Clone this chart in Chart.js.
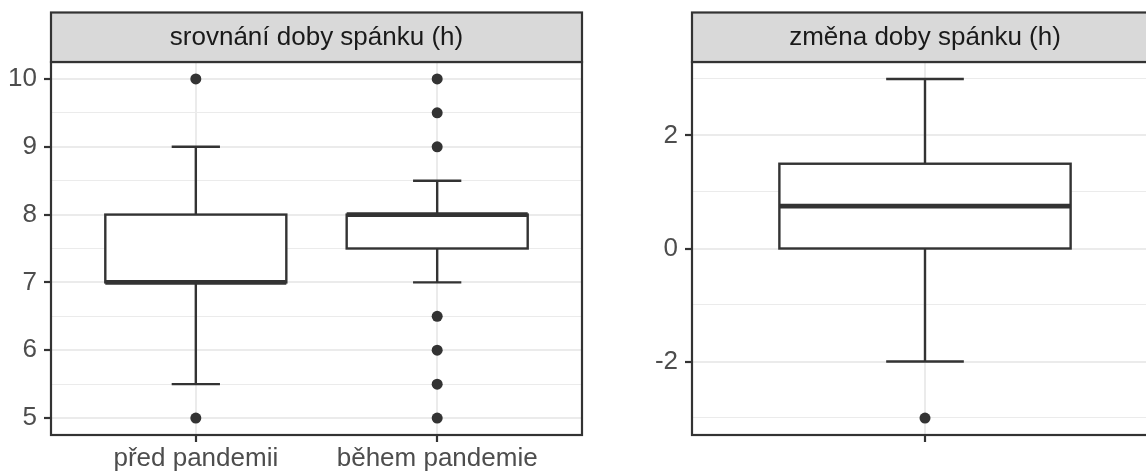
<!DOCTYPE html>
<html>
<head>
<meta charset="utf-8">
<script src="https://cdn.jsdelivr.net/npm/chart.js@4.4.1/dist/chart.umd.min.js"></script>
<style>
  html, body { margin: 0; padding: 0; background: #ffffff; overflow: hidden; width: 1146px; height: 472px; }
  canvas { position: absolute; top: 0; }
  #c1 { left: 0px; }
  #c2 { left: 600px; }
</style>
</head>
<body>
<canvas id="c1" width="600" height="472"></canvas>
<canvas id="c2" width="570" height="472"></canvas>
<script>
// ---------- data ----------
const panelTitles = ["srovnání doby spánku (h)", "změna doby spánku (h)"];

const sleepCategories = ["před pandemii", "během pandemie"];
const sleepWhiskerLow  = [5.5, 7];
const sleepQ1          = [7, 7.5];
const sleepMedian      = [7, 8];
const sleepQ3          = [8, 8];
const sleepWhiskerHigh = [9, 8.5];
const sleepOutliers    = [[5, 10], [10, 9.5, 9, 6.5, 6, 5.5, 5]];
const sleepMajorTicks  = [5, 6, 7, 8, 9, 10];
const sleepMinorTicks  = [5.5, 6.5, 7.5, 8.5, 9.5];

const changeCategories = [""];
const changeWhiskerLow  = [-2];
const changeQ1          = [0];
const changeMedian      = [0.75];
const changeQ3          = [1.5];
const changeWhiskerHigh = [3];
const changeOutliers    = [[-3]];
const changeMajorTicks  = [-2, 0, 2];
const changeMinorTicks  = [-3, -1, 1, 3];

// ---------- style ----------
const FONT = '"Liberation Sans", Arial, Helvetica, sans-serif';
const FONT_SIZE = 26;
const DARK = '#333333';
const GRID = '#EBEBEB';

const boxPlugin = {
  id: 'boxplot',
  beforeDatasetsDraw(chart, args, opts) {
    const ctx = chart.ctx, xs = chart.scales.x, ys = chart.scales.y;
    ctx.save();
    ctx.strokeStyle = DARK;
    ctx.lineCap = 'butt';
    for (let i = 0; i < opts.q1.length; i++) {
      const c = i + 1;
      const xc = xs.getPixelForValue(c);
      const xl = xs.getPixelForValue(c - opts.boxHalf);
      const xr = xs.getPixelForValue(c + opts.boxHalf);
      const cl = xs.getPixelForValue(c - opts.capHalf);
      const cr = xs.getPixelForValue(c + opts.capHalf);
      const yLow = ys.getPixelForValue(opts.low[i]);
      const yQ1 = ys.getPixelForValue(opts.q1[i]);
      const yMed = ys.getPixelForValue(opts.med[i]);
      const yQ3 = ys.getPixelForValue(opts.q3[i]);
      const yHigh = ys.getPixelForValue(opts.high[i]);
      ctx.lineWidth = 2.4;
      // whiskers
      ctx.beginPath();
      ctx.moveTo(xc, yQ1); ctx.lineTo(xc, yLow);
      ctx.moveTo(xc, yQ3); ctx.lineTo(xc, yHigh);
      ctx.moveTo(cl, yLow); ctx.lineTo(cr, yLow);
      ctx.moveTo(cl, yHigh); ctx.lineTo(cr, yHigh);
      ctx.stroke();
      // box
      ctx.fillStyle = '#ffffff';
      ctx.fillRect(xl, yQ3, xr - xl, yQ1 - yQ3);
      ctx.strokeRect(xl, yQ3, xr - xl, yQ1 - yQ3);
      // median
      ctx.lineWidth = 4.8;
      ctx.beginPath();
      ctx.moveTo(xl, yMed); ctx.lineTo(xr, yMed);
      ctx.stroke();
    }
    ctx.restore();
  },
  afterDraw(chart, args, opts) {
    const ctx = chart.ctx, a = chart.chartArea;
    ctx.save();
    // panel border
    ctx.strokeStyle = DARK;
    ctx.lineWidth = 2.2;
    ctx.strokeRect(a.left, a.top, a.right - a.left, a.bottom - a.top);
    // strip
    const sTop = 12.5, sBot = a.top;
    ctx.fillStyle = '#D9D9D9';
    ctx.fillRect(a.left, sTop, a.right - a.left, sBot - sTop);
    ctx.strokeRect(a.left, sTop, a.right - a.left, sBot - sTop);
    ctx.fillStyle = '#1A1A1A';
    ctx.font = FONT_SIZE + 'px ' + FONT;
    ctx.textAlign = 'center';
    ctx.textBaseline = 'middle';
    ctx.fillText(opts.title, (a.left + a.right) / 2, (sTop + sBot) / 2 + 1);
    ctx.restore();
  }
};

function makeChart(canvasId, cfg) {
  const n = cfg.categories.length;
  const allY = [].concat(cfg.low, cfg.high, ...cfg.outliers);
  const yMin = Math.min(...allY), yMax = Math.max(...allY);
  const pad = (yMax - yMin) * 0.05;
  const yTicks = cfg.major.concat(cfg.minor).sort((a, b) => a - b);
  const xTicks = cfg.categories.map((_, i) => i + 1);
  const isMajor = (v) => cfg.major.some(m => Math.abs(m - v) < 1e-9);

  const points = [];
  cfg.outliers.forEach((arr, i) => arr.forEach(v => points.push({ x: i + 1, y: v })));

  return new Chart(document.getElementById(canvasId), {
    type: 'scatter',
    data: {
      datasets: [{
        data: points,
        pointRadius: 5.5,
        pointHoverRadius: 5.5,
        backgroundColor: DARK,
        borderWidth: 0
      }]
    },
    options: {
      responsive: false,
      animation: false,
      devicePixelRatio: 1,
      layout: { padding: { top: 62, right: cfg.padRight, left: 0, bottom: 0 } },
      plugins: {
        legend: { display: false },
        tooltip: { enabled: false },
        boxplot: {
          title: cfg.title,
          low: cfg.low, q1: cfg.q1, med: cfg.med, q3: cfg.q3, high: cfg.high,
          boxHalf: 0.375, capHalf: 0.1
        }
      },
      scales: {
        x: {
          type: 'linear',
          min: 0.4,
          max: n + 0.6,
          afterBuildTicks: (s) => { s.ticks = xTicks.map(v => ({ value: v })); },
          afterFit: (s) => { s.height = 37; },
          border: { display: false },
          grid: {
            color: GRID,
            lineWidth: 2,
            tickColor: DARK,
            tickLength: 7,
            tickWidth: 2.2
          },
          ticks: {
            autoSkip: false,
            maxRotation: 0,
            minRotation: 0,
            padding: 1,
            color: '#4D4D4D',
            font: { family: FONT, size: FONT_SIZE },
            callback: (v) => cfg.categories[Math.round(v) - 1] ?? ''
          }
        },
        y: {
          type: 'linear',
          min: yMin - pad,
          max: yMax + pad,
          afterBuildTicks: (s) => { s.ticks = yTicks.map(v => ({ value: v })); },
          afterFit: (s) => { s.width = cfg.yAxisWidth; },
          border: { display: false },
          grid: {
            color: GRID,
            lineWidth: (c) => isMajor(c.tick.value) ? 2 : 1.1,
            tickColor: (c) => isMajor(c.tick.value) ? DARK : 'rgba(0,0,0,0)',
            tickLength: 7,
            tickWidth: 2.2
          },
          ticks: {
            autoSkip: false,
            padding: 7,
            color: '#4D4D4D',
            font: { family: FONT, size: FONT_SIZE },
            callback: (v) => isMajor(v) ? String(v) : ''
          }
        }
      }
    },
    plugins: [boxPlugin]
  });
}

makeChart('c1', {
  title: panelTitles[0],
  categories: sleepCategories,
  low: sleepWhiskerLow, q1: sleepQ1, med: sleepMedian, q3: sleepQ3, high: sleepWhiskerHigh,
  outliers: sleepOutliers,
  major: sleepMajorTicks, minor: sleepMinorTicks,
  yAxisWidth: 51, padRight: 18
});

makeChart('c2', {
  title: panelTitles[1],
  categories: changeCategories,
  low: changeWhiskerLow, q1: changeQ1, med: changeMedian, q3: changeQ3, high: changeWhiskerHigh,
  outliers: changeOutliers,
  major: changeMajorTicks, minor: changeMinorTicks,
  yAxisWidth: 92, padRight: 12
});
</script>
</body>
</html>
